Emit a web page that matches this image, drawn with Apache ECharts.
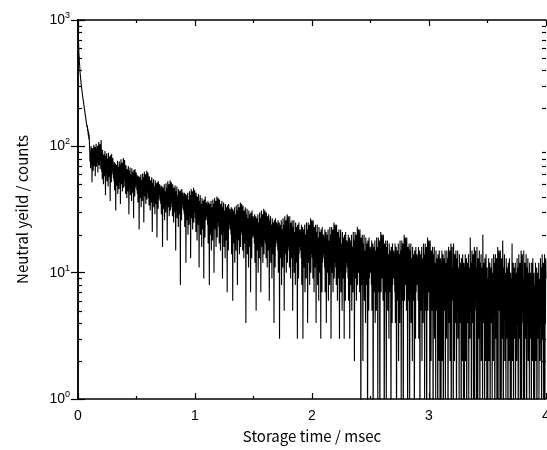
<!DOCTYPE html>
<html>
<head>
<meta charset="utf-8">
<script src="https://cdn.jsdelivr.net/npm/echarts@6/dist/echarts.min.js"></script>
<style>html,body{margin:0;padding:0;background:#fff;}#c{width:547px;height:450px;}</style>
</head>
<body>
<div id="c"></div>
<script>
// time bin width (msec) of the counts below
var binWidth = 0.0025;
// neutral counts, 0 - 1 msec
var counts0to1 = [
950,748,652,548,512,452,430,388,378,344,338,309,305,282,281,259,260,240,241,222,224,205,208,190,193,176,180,164,168,152,157,141,147,131,138,122,131,114,124,108,
95,76,91,67,81,100,73,87,52,97,79,94,64,83,103,70,88,77,99,58,92,82,105,69,96,74,86,101,62,90,80,108,71,93,84,104,66,98,78,112,
90,63,82,55,94,71,77,50,86,66,79,58,92,68,41,84,61,75,88,53,80,65,73,48,89,70,57,83,62,78,37,85,67,74,52,87,60,76,64,81,
70,56,66,53,75,45,64,59,73,31,67,55,71,49,61,77,42,63,58,69,46,76,65,52,72,35,62,79,50,68,57,74,44,66,60,81,47,70,54,78,
69,48,62,42,71,53,58,39,66,50,61,44,70,55,29,64,46,57,68,41,60,51,56,37,67,54,43,63,49,59,27,65,52,57,40,66,47,58,50,62,
56,45,52,42,59,36,51,47,58,22,53,44,57,39,48,60,33,50,46,54,37,61,51,41,57,25,49,63,40,55,45,60,35,52,48,64,38,56,43,62,
56,39,50,34,58,43,47,31,54,41,49,36,57,44,21,51,37,46,55,33,48,42,45,29,54,43,35,51,40,48,19,52,42,46,32,53,38,47,41,50,
46,37,43,35,49,29,42,38,48,16,44,37,47,32,40,50,26,41,39,44,30,51,42,34,47,18,41,53,33,45,38,50,28,43,40,54,31,46,36,52,
49,33,43,28,50,37,40,25,47,35,42,30,49,38,15,44,31,39,48,27,41,36,38,23,46,37,29,44,34,41,8,45,35,39,26,46,32,40,34,43,
40,31,37,29,43,23,36,32,42,12,38,31,41,26,34,43,20,35,33,38,24,44,36,28,41,13,35,46,27,39,32,44,22,37,34,47,25,40,30,45
];
// 1 - 2 msec
var counts1to2 = [
41,27,36,21,43,31,34,18,40,29,35,24,42,32,11,37,25,33,41,20,35,30,32,16,39,31,22,37,28,34,9,38,29,33,19,40,26,34,28,36,
34,26,32,24,37,17,31,27,36,8,32,26,35,20,29,37,15,30,28,33,18,38,31,23,35,10,30,39,22,33,27,37,16,32,29,40,19,34,25,39,
37,23,32,17,38,27,30,15,35,25,31,20,37,28,9,33,21,29,36,16,31,26,28,13,35,27,18,33,24,30,7,34,25,29,15,35,22,30,24,32,
30,22,28,20,33,14,27,23,32,6,28,22,31,17,25,33,12,26,24,29,15,34,27,19,31,8,26,35,18,29,23,33,14,28,25,36,16,30,21,35,
33,20,28,15,34,23,26,13,31,21,27,17,33,24,4,29,18,25,32,14,27,22,24,11,31,23,16,29,20,26,7,30,21,25,13,31,19,26,20,28,
26,19,24,17,29,12,23,20,28,5,24,19,27,15,21,29,10,23,20,25,13,30,23,17,27,7,22,31,16,25,20,29,12,24,22,32,14,26,18,31,
29,17,25,13,30,20,23,11,28,18,24,15,29,21,6,26,16,22,28,12,24,19,21,9,27,20,14,25,17,22,4,26,18,22,11,27,16,23,18,25,
23,17,21,15,26,10,20,17,25,3,21,16,24,13,19,26,8,20,18,22,11,27,20,15,24,5,19,28,14,22,17,26,10,21,19,29,12,23,16,28,
27,15,22,11,28,18,20,9,25,16,21,13,26,18,5,23,14,19,26,10,21,17,19,8,25,18,12,23,15,20,3,24,16,19,9,25,14,20,16,22,
21,15,19,13,24,8,18,15,23,3,19,14,22,11,17,24,7,18,16,20,9,25,18,13,22,4,17,25,12,20,15,24,8,19,17,27,10,21,14,26
];
// 2 - 3 msec
var counts2to3 = [
25,13,20,9,26,16,18,7,23,14,19,11,24,16,4,21,12,17,24,8,19,15,17,6,23,16,10,21,13,18,3,22,14,17,7,23,12,18,14,20,
19,13,17,11,22,7,16,13,21,4,17,12,20,10,15,22,6,16,14,18,8,23,16,11,20,3,15,23,10,18,13,22,7,17,15,25,9,19,12,24,
23,11,18,8,24,14,16,6,21,12,17,9,22,14,3,19,10,15,22,7,17,13,15,5,21,14,9,19,11,16,3,20,12,15,6,21,10,16,12,18,
17,11,15,9,20,6,14,11,19,3,15,11,18,8,13,20,5,14,12,16,7,21,14,10,18,2,13,21,9,16,11,20,6,15,13,23,8,17,10,22,
21,10,16,7,22,12,14,0,19,11,15,8,20,12,2,17,9,14,20,6,15,11,13,4,19,12,8,17,10,14,0,18,11,13,5,19,9,14,10,16,
15,10,13,8,18,5,13,10,17,0,13,9,16,7,11,18,4,12,10,15,5,19,13,9,16,1,12,19,7,14,10,18,0,14,11,21,7,15,9,20,
19,9,14,6,20,11,13,0,17,10,14,7,18,11,1,16,8,12,18,5,14,10,12,3,17,11,7,15,9,13,0,16,10,12,4,17,8,13,9,15,
14,9,12,7,17,4,12,9,16,0,12,8,15,6,10,17,2,11,9,14,4,18,12,8,15,1,11,18,6,13,9,17,0,13,10,20,6,14,8,19,
18,8,13,5,19,10,12,0,16,9,13,6,17,10,1,15,7,11,17,4,13,9,11,2,16,10,6,14,8,12,0,15,9,11,3,16,7,12,8,14,
13,8,11,6,16,3,11,8,15,0,11,8,14,5,9,16,2,10,8,13,4,17,11,7,14,1,10,17,5,12,8,16,0,12,9,19,5,13,7,18
];
// 3 - 4 msec
var counts3to4 = [
17,7,12,0,18,9,11,2,15,8,12,5,16,9,0,14,6,10,16,3,12,8,10,1,15,9,5,13,7,11,0,14,8,10,2,15,6,11,0,13,
12,0,10,5,15,2,10,7,14,0,10,7,13,5,8,15,1,9,8,12,3,15,10,6,13,0,9,16,4,11,7,15,2,11,9,17,0,12,6,16,
16,6,11,0,17,8,10,2,14,7,11,4,15,9,0,13,5,9,15,3,11,7,9,1,14,8,4,12,6,10,0,13,7,9,2,14,5,10,0,12,
11,0,9,5,14,2,9,7,13,0,10,6,12,4,8,14,1,9,7,11,3,19,9,5,12,0,8,15,4,10,7,14,1,10,8,16,0,11,6,15,
15,5,11,0,16,8,10,1,13,6,10,3,15,8,0,12,5,9,14,2,11,7,8,1,20,7,4,12,6,9,0,13,6,9,2,14,5,9,0,11,
11,0,9,4,13,2,9,6,12,0,9,6,11,4,7,13,1,8,7,10,2,14,8,5,12,0,8,14,3,10,6,13,1,9,7,16,0,10,5,15,
14,5,10,0,15,7,9,1,13,6,9,3,18,7,0,11,5,8,14,2,10,6,8,1,13,7,3,11,5,9,0,12,6,8,2,13,4,9,0,10,
10,0,9,4,17,2,8,6,12,0,8,5,11,3,7,12,1,8,6,10,2,13,8,4,11,0,7,14,3,9,6,12,1,9,7,15,0,10,5,14,
14,4,9,0,15,6,9,1,12,6,9,3,14,7,0,11,4,8,13,2,10,6,8,1,12,6,3,10,5,8,0,12,5,8,2,13,4,8,0,10,
10,0,8,4,12,2,8,5,11,0,8,5,10,3,6,12,1,8,6,9,2,13,8,4,11,0,7,14,3,9,5,12,1,8,6,14,0,9,4,13,
9
];
var xTicks = [0, 1, 2, 3, 4];
var yTicks = [1, 10, 100, 1000];
var xTitle = 'Storage time / msec';
var yTitle = 'Neutral yeild / counts';

var allCounts = counts0to1.concat(counts1to2, counts2to3, counts3to4);
// zero counts lie below the log axis; place them under the floor so the line drops off the bottom
var seriesData = allCounts.map(function (c, i) {
  return [+(i * binWidth).toFixed(4), c > 0 ? c : 0.3];
});

var chart = echarts.init(document.getElementById('c'), null, {renderer: 'canvas'});
var labelFont = 'Liberation Sans, Arial, sans-serif';
var titleFont = '"Noto Sans CJK JP", "Noto Sans", sans-serif';
var axisCommon = {
  axisLine: {lineStyle: {color: '#000', width: 1.5}},
  splitLine: {show: false}
};
chart.setOption({
  animation: false,
  backgroundColor: '#fff',
  grid: {left: 78, top: 20, right: 1, bottom: 51, containLabel: false, outerBoundsMode: 'none'},
  xAxis: [{
    type: 'value', position: 'bottom', min: xTicks[0], max: xTicks[xTicks.length - 1], interval: 1,
    axisLine: axisCommon.axisLine, splitLine: axisCommon.splitLine,
    axisTick: {inside: true, length: 6, lineStyle: {color: '#000', width: 1.2}},
    minorTick: {show: true, splitNumber: 2, length: 3, lineStyle: {color: '#000', width: 1.2}},
    axisLabel: {color: '#000', fontFamily: labelFont, fontSize: 14, margin: 10, hideOverlap: false},
    name: xTitle, nameLocation: 'middle', nameGap: 30,
    nameTextStyle: {color: '#000', fontFamily: titleFont, fontSize: 15}
  }, {
    type: 'value', position: 'top', min: xTicks[0], max: xTicks[xTicks.length - 1], interval: 1,
    axisLine: axisCommon.axisLine, splitLine: axisCommon.splitLine,
    axisTick: {inside: true, length: 6, lineStyle: {color: '#000', width: 1.2}},
    minorTick: {show: true, splitNumber: 2, length: 3, lineStyle: {color: '#000', width: 1.2}},
    axisLabel: {show: false}
  }],
  yAxis: [{
    type: 'log', logBase: 10, position: 'left', min: yTicks[0], max: yTicks[yTicks.length - 1],
    axisLine: axisCommon.axisLine, splitLine: axisCommon.splitLine,
    axisTick: {inside: true, length: 7, lineStyle: {color: '#000', width: 1.2}},
    axisLabel: {
      color: '#000', margin: 8,
      formatter: function (v) { return '{b|10}{s|' + Math.round(Math.log10(v)) + '}'; },
      rich: {
        b: {fontFamily: labelFont, fontSize: 14, color: '#000'},
        s: {fontFamily: labelFont, fontSize: 9, color: '#000', padding: [0, 0, 9, 0]}
      }
    },
    name: yTitle, nameLocation: 'middle', nameGap: 48,
    nameTextStyle: {color: '#000', fontFamily: titleFont, fontSize: 15}
  }, {
    type: 'log', logBase: 10, position: 'right', min: yTicks[0], max: yTicks[yTicks.length - 1],
    axisLine: axisCommon.axisLine, splitLine: axisCommon.splitLine,
    axisTick: {inside: true, length: 7, lineStyle: {color: '#000', width: 1.2}},
    axisLabel: {show: false}
  }],
  series: [{
    type: 'line', xAxisIndex: 0, yAxisIndex: 0, data: seriesData,
    showSymbol: false, symbol: 'none', clip: true, sampling: null, large: false,
    lineStyle: {color: '#000', width: 1.1}
  }]
});

// log minor ticks (2..9 of each decade) on left and right axes, positioned by the axis scale
function drawMinor() {
  var els = [];
  var xl = chart.convertToPixel({xAxisIndex: 0}, xTicks[0]);
  var xr = chart.convertToPixel({xAxisIndex: 0}, xTicks[xTicks.length - 1]);
  for (var d = 0; d < yTicks.length - 1; d++) {
    for (var k = 2; k <= 9; k++) {
      var y = Math.round(chart.convertToPixel({yAxisIndex: 0}, k * yTicks[d])) + 0.5;
      els.push({type: 'line', shape: {x1: xl, y1: y, x2: xl + 4, y2: y}, style: {stroke: '#000', lineWidth: 1.2}, silent: true});
      els.push({type: 'line', shape: {x1: xr, y1: y, x2: xr - 4, y2: y}, style: {stroke: '#000', lineWidth: 1.2}, silent: true});
    }
  }
  chart.setOption({graphic: els});
}
drawMinor();
</script>
</body>
</html>
